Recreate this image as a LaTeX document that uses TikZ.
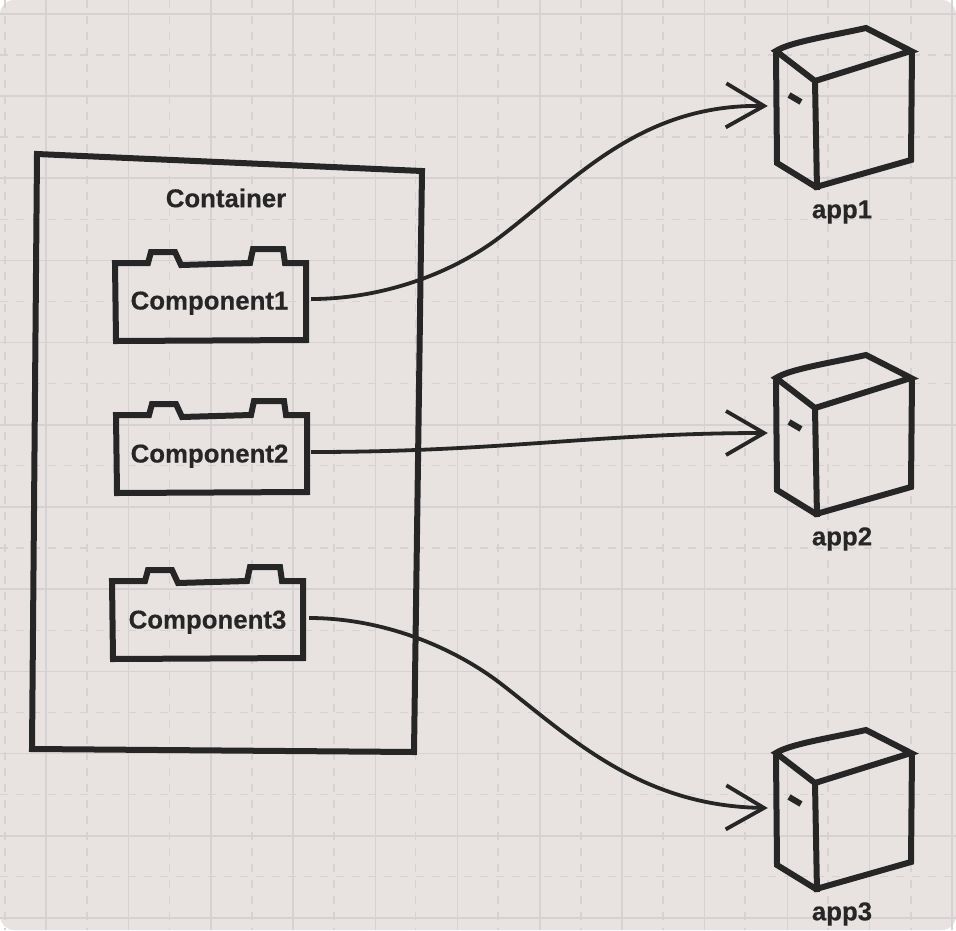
\documentclass[tikz,border=0pt]{standalone}
\usepackage{fontspec}
\setmainfont[BoldFeatures={FakeBold=0.35}]{Liberation Sans}
\usetikzlibrary{arrows.meta}

\definecolor{paper}{HTML}{E8E3E1}
\definecolor{gridline}{HTML}{D6D1D2}
\definecolor{ink}{HTML}{262626}

\tikzset{
  outline/.style={draw=ink, line width=6pt, line join=miter},
  flow/.style={draw=ink, line width=3.8pt, -{Straight Barb[length=38pt,width=44pt,line width=3.8pt]}},
  title/.style={font=\bfseries\fontsize{25.8}{30}\selectfont, text=ink, inner sep=0pt},
  comp/.style={title, minimum width=203pt, text height=22pt, text depth=1pt},
  app/.style={minimum width=148pt, minimum height=150pt, inner sep=0pt},
  compbox/.pic={
    \draw[outline] (115,263) -- (148,263) -- (151,252) -- (175,252) -- (181,265)
      -- (250,263) -- (253,249) -- (283,249) -- (285,263) -- (306,263)
      -- (306,340) -- (116,341) -- cycle;
  },
  appbox/.pic={
    \draw[outline] (776,51) .. controls (790,42) and (830,36) .. (866,28) -- (911,51)
      -- (815,81) -- cycle;
    \draw[outline] (776,53) -- (777,163) -- (816,187) -- (911,160) -- (912,51);
    \draw[outline] (815,81) -- (817,190);
    \draw[outline] (789,95) -- (801,102);
  }
}

\begin{document}
\begin{tikzpicture}[x=1pt, y=-1pt]
  \useasboundingbox (0,0) rectangle (956,930);
  \fill[white] (0,0) rectangle (956,930);
  \fill[paper, rounded corners=14pt] (0,0) rectangle (956,930);

  % grid
  \foreach \x in {46,128.4,210.8,293.2,375.6,457.5,540,622,704.5,787.3,869.5,952}
    \draw[gridline, line width=1.6pt] (\x,0) -- (\x,930);
  \foreach \y in {13.8,96,178.2,260.4,342.6,424.8,507,589.2,671.4,753.6,835.8,918}
    \draw[gridline, line width=1.6pt] (0,\y) -- (956,\y);
  \foreach \x in {5,87,169.6,252,334,415.7,498,581,663,745,828,911}
    \draw[gridline, line width=1.3pt, dash pattern=on 8pt off 8pt] (\x,0) -- (\x,930);
  \foreach \y in {55,137,219.2,301.4,383.6,465.8,548,630.2,712.4,794.6,876.8}
    \draw[gridline, line width=1.3pt, dash pattern=on 8pt off 8pt] (0,\y) -- (956,\y);

  % container
  \draw[outline] (37,154) -- (422,171) -- (414,752) -- (32,749) -- cycle;
  \node[title] (container) at (226,198) {Container};

  % components
  \pic at (0,0) {compbox};
  \pic at (1,152) {compbox};
  \pic at (-3,318) {compbox};
  \node[comp] (comp1) at (209.5,299) {Component1};
  \node[comp] (comp2) at (209.5,452) {Component2};
  \node[comp] (comp3) at (207.5,618) {Component3};

  % apps
  \pic at (0,0) {appbox};
  \pic at (0,327) {appbox};
  \pic at (0,702) {appbox};
  \node[app] (app1) at (842,106) {};
  \node[app] (app2) at (842,433) {};
  \node[app] (app3) at (842,808) {};
  \node[title] (label1) at (842,212) {app1};
  \node[title] (label2) at (842,539) {app2};
  \node[title] (label3) at (842,914) {app3};

  % connectors
  \draw[flow] (comp1.east) .. controls (380,299) and (450,275) .. (500,237)
    .. controls (575,180) and (640,104) .. (app1.west);
  \draw[flow] (comp2.east) .. controls (500,452) and (600,433) .. (app2.west);
  \draw[flow] (comp3.east) .. controls (380,618) and (450,645) .. (500,683)
    .. controls (570,737) and (640,806) .. (app3.west);
\end{tikzpicture}
\end{document}
